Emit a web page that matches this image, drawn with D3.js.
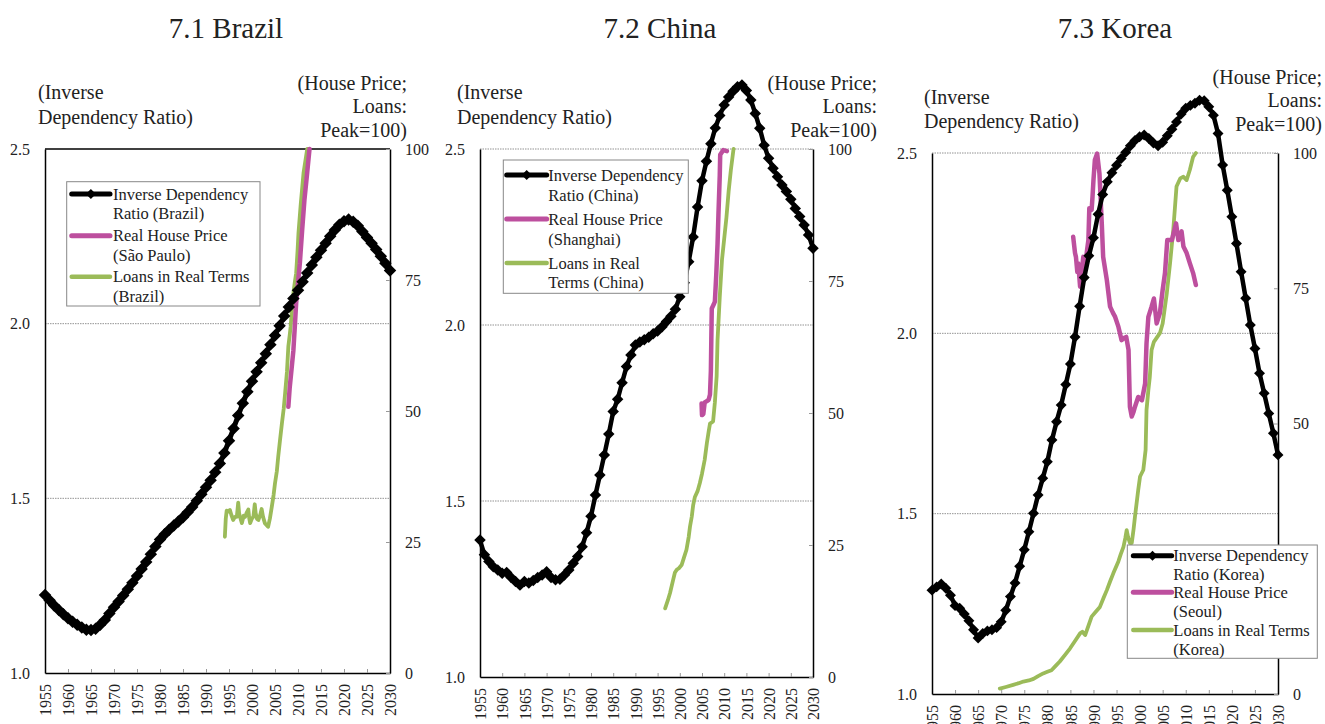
<!DOCTYPE html>
<html>
<head>
<meta charset="utf-8">
<script src="https://cdn.jsdelivr.net/npm/d3@7"></script>
<style>
  html, body { margin: 0; padding: 0; background: #fff; }
  svg { display: block; font-family: "Liberation Serif", "Times New Roman", serif; }
</style>
</head>
<body>
<svg id="chart" width="1325" height="724"></svg>
<script>
// ---- Years and tick labels ----
const years = d3.range(1955, 2031);
const yearTicks = d3.range(1955, 2031, 5);
const leftTicks = [1.0, 1.5, 2.0, 2.5];
const rightTicks = [0, 25, 50, 75, 100];

// ---- Inverse dependency ratio (working-age / dependants), annual 1955-2030 ----
const brazilIDR = [1.223,1.208,1.193,1.180,1.168,1.157,1.147,1.138,1.130,1.124,
  1.123,1.127,1.138,1.152,1.170,1.188,1.205,1.222,1.240,1.258,
  1.278,1.298,1.318,1.340,1.362,1.382,1.397,1.410,1.422,1.434,
  1.446,1.460,1.475,1.493,1.512,1.532,1.552,1.575,1.600,1.630,
  1.665,1.700,1.737,1.772,1.805,1.835,1.862,1.888,1.914,1.940,
  1.966,1.994,2.022,2.048,2.072,2.096,2.120,2.145,2.168,2.190,
  2.210,2.230,2.250,2.268,2.283,2.293,2.298,2.292,2.280,2.264,
  2.247,2.230,2.212,2.193,2.173,2.152];
const chinaIDR = [1.389,1.347,1.328,1.313,1.304,1.295,1.297,1.283,1.271,1.261,
  1.271,1.267,1.274,1.283,1.290,1.299,1.283,1.276,1.278,1.290,
  1.304,1.323,1.342,1.370,1.410,1.457,1.517,1.574,1.631,1.690,
  1.754,1.789,1.836,1.882,1.915,1.943,1.952,1.958,1.965,1.975,
  1.983,1.995,2.010,2.025,2.045,2.080,2.120,2.180,2.250,2.335,
  2.410,2.465,2.515,2.560,2.595,2.625,2.648,2.664,2.677,2.682,
  2.666,2.639,2.601,2.559,2.511,2.474,2.445,2.421,2.398,2.379,
  2.357,2.331,2.308,2.284,2.256,2.218];
const koreaIDR = [1.288,1.297,1.305,1.293,1.274,1.245,1.238,1.222,1.203,1.178,
  1.155,1.168,1.175,1.178,1.184,1.200,1.232,1.270,1.308,1.354,
  1.400,1.450,1.501,1.552,1.598,1.644,1.704,1.755,1.801,1.858,
  1.915,1.990,2.075,2.155,2.215,2.265,2.330,2.385,2.420,2.445,
  2.466,2.485,2.502,2.520,2.535,2.545,2.550,2.540,2.528,2.520,
  2.530,2.548,2.566,2.586,2.608,2.624,2.632,2.638,2.646,2.645,
  2.628,2.605,2.554,2.467,2.397,2.323,2.249,2.171,2.097,2.023,
  1.958,1.889,1.834,1.778,1.723,1.663];

// ---- Real house prices (peak = 100), [year, index] ----
const saoPauloPrice = [[2007.9,50.8],[2008.2,54.5],[2008.6,58.0],[2009.0,61.6],[2009.3,66.0],
  [2009.6,70.6],[2010.0,74.5],[2010.4,78.2],[2010.9,84.5],[2011.4,90.3],[2012.0,95.5],[2012.5,100]];
const shanghaiPrice = [[2004.9,51.8],[2005.0,49.6],[2005.3,49.8],[2005.6,52.0],[2006.0,52.2],
  [2006.5,52.5],[2006.8,53.5],[2007.0,58.0],[2007.1,64.0],[2007.2,69.8],[2007.6,70.5],
  [2007.9,71.1],[2008.2,76.0],[2008.5,82.0],[2008.7,87.5],[2009.0,95.0],[2009.1,98.9],
  [2009.8,99.8],[2010.6,99.6]];
const seoulPrice = [[1985.6,84.5],[1986.0,81.5],[1986.2,80.8],[1986.5,78.0],[1986.7,79.6],
  [1987.1,75.3],[1987.5,78.5],[1987.8,80.8],[1988.2,79.0],[1988.6,82.0],[1988.9,83.9],
  [1989.1,89.8],[1989.6,89.5],[1989.8,92.0],[1990.0,95.0],[1990.3,98.7],[1990.8,99.9],
  [1991.3,96.2],[1991.8,87.0],[1992.1,80.8],[1992.9,76.5],[1993.6,71.6],[1994.2,70.5],
  [1994.7,69.7],[1995.4,67.9],[1996.1,65.4],[1996.6,65.8],[1997.1,66.0],[1997.6,63.6],
  [1997.9,53.1],[1998.3,51.3],[1998.7,52.2],[1999.0,53.1],[1999.7,54.9],[2000.5,54.3],
  [2001.2,57.4],[2001.5,64.8],[2001.9,69.7],[2002.6,71.6],[2003.1,73.1],[2003.7,68.5],
  [2004.4,70.4],[2005.0,74.7],[2005.5,77.8],[2006.0,83.9],[2007.0,83.9],[2007.9,87.0],
  [2008.4,83.9],[2009.1,85.5],[2009.5,82.7],[2010.2,81.5],[2010.9,79.6],[2011.6,77.8],
  [2012.2,75.6]];

// ---- Loans in real terms (peak = 100), [year, index] ----
const brazilLoans = [[1994.1,26.0],[1994.3,29.5],[1994.5,31.0],[1994.8,30.8],[1995.2,31.1],
  [1995.5,30.2],[1995.9,29.2],[1996.3,29.8],[1996.7,29.8],[1997.0,32.5],[1997.2,30.5],
  [1997.5,29.5],[1997.8,28.6],[1998.2,30.0],[1998.5,29.8],[1998.8,30.5],[1999.2,31.2],
  [1999.4,29.5],[1999.6,28.6],[2000.0,29.5],[2000.3,29.8],[2000.6,32.2],[2000.8,30.5],
  [2001.1,29.4],[2001.4,29.2],[2001.8,30.2],[2002.1,31.3],[2002.4,29.8],[2002.8,28.6],
  [2003.2,28.2],[2003.5,27.9],[2003.9,29.5],[2004.3,31.7],[2004.7,34.0],[2005.0,36.2],
  [2005.4,38.5],[2005.7,41.3],[2006.1,44.5],[2006.5,47.6],[2006.9,50.5],[2007.2,53.4],
  [2007.6,57.5],[2007.9,62.3],[2008.2,64.5],[2008.4,66.1],[2008.7,69.5],[2009.0,72.5],
  [2009.3,74.5],[2009.6,76.3],[2009.9,80.5],[2010.1,83.9],[2010.6,89.5],[2011.2,95.4],
  [2012.0,100]];
const chinaLoans = [[1996.7,13.0],[1997.3,14.5],[1997.8,15.9],[1998.5,18.4],[1998.9,19.8],
  [1999.3,20.3],[1999.8,20.6],[2000.4,21.2],[2000.9,22.5],[2001.5,24.1],[2002.0,26.5],
  [2002.3,28.5],[2002.7,30.4],[2003.0,32.5],[2003.4,34.1],[2004.0,35.2],[2004.5,36.7],
  [2005.0,38.5],[2005.6,41.1],[2006.1,44.3],[2006.5,46.5],[2006.8,48.0],[2007.5,48.4],
  [2007.9,52.0],[2008.3,57.0],[2008.5,63.8],[2009.0,72.0],[2009.5,79.0],[2010.0,83.0],
  [2010.5,87.0],[2011.0,92.0],[2011.5,96.0],[2012.1,100.0]];
const koreaLoans = [[1969.7,1.0],[1971.0,1.3],[1972.6,1.7],[1973.8,2.0],[1974.8,2.3],
  [1976.0,2.5],[1977.0,2.8],[1978.0,3.3],[1979.1,3.8],[1980.0,4.1],[1980.9,4.4],
  [1981.8,5.2],[1982.7,6.0],[1983.8,7.2],[1984.9,8.4],[1986.0,9.8],[1987.1,11.2],
  [1987.6,11.5],[1988.2,10.9],[1988.9,12.6],[1989.6,14.3],[1990.5,15.2],[1991.4,16.1],
  [1992.2,17.8],[1992.9,19.2],[1993.6,20.8],[1994.3,22.3],[1995.4,24.5],[1995.9,25.8],
  [1996.5,27.2],[1996.9,28.8],[1997.2,30.3],[1997.5,29.0],[1997.9,27.9],[1998.3,27.9],
  [1998.7,30.5],[1999.0,32.8],[1999.7,37.7],[2000.1,40.2],[2000.8,41.4],[2001.3,45.1],
  [2001.5,52.5],[2001.9,56.2],[2002.2,58.5],[2002.6,63.6],[2003.1,65.1],[2004.4,66.7],
  [2005.0,68.5],[2005.9,74.1],[2006.6,79.6],[2007.3,85.8],[2008.0,93.8],[2008.8,95.3],
  [2009.5,95.6],[2010.2,95.0],[2010.9,96.9],[2011.6,99.3],[2012.2,100]];

// ---- Texts ----
const titles = ["7.1 Brazil", "7.2 China", "7.3 Korea"];
const leftAxisTitle = ["(Inverse", "Dependency Ratio)"];
const rightAxisTitle = ["(House Price;", "Loans:", "Peak=100)"];
const legendTexts = [
  [["Inverse Dependency", "Ratio (Brazil)"], ["Real House Price", "(São Paulo)"], ["Loans  in Real Terms", "(Brazil)"]],
  [["Inverse Dependency", "Ratio (China)"], ["Real House Price", "(Shanghai)"], ["Loans in Real", "Terms (China)"]],
  [["Inverse Dependency", "Ratio (Korea)"], ["Real House Price", "(Seoul)"], ["Loans in Real Terms", "(Korea)"]]
];

// ---- Styling ----
const COL_IDR = "#000000";
const COL_PRICE = "#BD4F9E";
const COL_LOAN = "#9BBB59";
const TEXT = "#222";

// ---- Panel layout ----
const panels = [
  { title: titles[0], idr: brazilIDR, price: saoPauloPrice, loans: brazilLoans, legend: legendTexts[0],
    L: 45, R: 390, T: 149, B: 673, titleX: 226, solidTop: true, mk: 78, lw: 5,
    ltX: 38, ltY: [99, 124], rtX: 407, rtY: [90, 113, 137],
    lg: { x: 66.7, y: 181.7, w: 193.3, h: 124.3, sx1: 71.7, sx2: 110, tx: 113, rows: [194, 213.3, 235.7, 255, 276.7, 296] } },
  { title: titles[1], idr: chinaIDR, price: shanghaiPrice, loans: chinaLoans, legend: legendTexts[1],
    L: 480, R: 813, T: 149, B: 677, titleX: 660, solidTop: false, mk: 66, lw: 4.5,
    ltX: 457, ltY: [99, 124], rtX: 877, rtY: [90, 113, 137],
    lg: { x: 503.3, y: 160, w: 185, h: 133.3, sx1: 506.7, sx2: 546.7, tx: 548.3, rows: [175, 195, 219, 239, 263, 282] } },
  { title: titles[2], idr: koreaIDR, price: seoulPrice, loans: koreaLoans, legend: legendTexts[2],
    L: 932, R: 1278, T: 153, B: 694, titleX: 1115, solidTop: false, mk: 60, lw: 4.5,
    ltX: 924, ltY: [104, 128], rtX: 1322, rtY: [84, 107, 131],
    lg: { x: 1127.3, y: 545, w: 190, h: 113.3, sx1: 1133.3, sx2: 1171.7, tx: 1173.3, rows: [555.7, 574.3, 592.3, 611.7, 630, 649.3] } }
];

const svg = d3.select("#chart");

panels.forEach(p => {
  const g = svg.append("g");
  const x = d3.scaleLinear().domain([1955, 2030]).range([p.L, p.R]);
  const yL = d3.scaleLinear().domain([1, 2.5]).range([p.B, p.T]);
  const yR = d3.scaleLinear().domain([0, 100]).range([p.B, p.T]);
  const diamond = d3.symbol().type(d3.symbolSquare).size(p.mk);
  const lg = p.lg;

  // title
  g.append("text").attr("x", p.titleX).attr("y", 38).attr("text-anchor", "middle")
    .attr("font-size", 29).attr("fill", TEXT).text(p.title);

  // axis titles
  const lt = g.append("text").attr("font-size", 20).attr("fill", TEXT);
  leftAxisTitle.forEach((s, i) => lt.append("tspan").attr("x", p.ltX).attr("y", p.ltY[i]).text(s));
  const rt = g.append("text").attr("font-size", 20).attr("fill", TEXT).attr("text-anchor", "end");
  rightAxisTitle.forEach((s, i) => rt.append("tspan").attr("x", p.rtX).attr("y", p.rtY[i]).text(s));

  // gridlines
  const grid = p.solidTop ? [1.5, 2.0] : [1.5, 2.0, 2.5];
  g.append("g").selectAll("line").data(grid).join("line")
    .attr("x1", p.L).attr("x2", p.R).attr("y1", d => yL(d)).attr("y2", d => yL(d))
    .attr("stroke", "#777").attr("stroke-width", 0.8).attr("stroke-dasharray", "1.5,1");
  if (p.solidTop) {
    g.append("line").attr("x1", p.L).attr("x2", p.R).attr("y1", p.T).attr("y2", p.T)
      .attr("stroke", "#000").attr("stroke-width", 1.3);
  }

  // bottom axis (years, rotated)
  const xa = g.append("g").attr("transform", `translate(0,${p.B})`)
    .call(d3.axisBottom(x).tickValues(yearTicks).tickFormat(d3.format("d")).tickSizeInner(-4).tickSizeOuter(0));
  xa.select(".domain").attr("stroke", "#000").attr("stroke-width", 1.5);
  xa.selectAll(".tick line").attr("stroke", "#999");
  xa.selectAll(".tick text").attr("transform", "rotate(-90)").attr("x", -11).attr("y", 0)
    .attr("dy", "0.35em").attr("text-anchor", "end").attr("font-size", 16)
    .attr("fill", TEXT).attr("font-family", "Liberation Serif");

  // left axis
  const la = g.append("g").attr("transform", `translate(${p.L},0)`)
    .call(d3.axisLeft(yL).tickValues(leftTicks).tickFormat(d3.format(".1f")).tickSize(0).tickPadding(15));
  la.select(".domain").attr("stroke", "#000").attr("stroke-width", 1.5);
  la.selectAll(".tick text").attr("font-size", 16).attr("fill", TEXT).attr("font-family", "Liberation Serif");

  // right axis; a label hidden under the legend box is not drawn
  const ra = g.append("g").attr("transform", `translate(${p.R},0)`)
    .call(d3.axisRight(yR).tickValues(rightTicks).tickSizeInner(-4).tickSizeOuter(0).tickPadding(15));
  ra.select(".domain").attr("stroke", "#000").attr("stroke-width", 1.5);
  ra.selectAll(".tick line").attr("stroke", "#999");
  ra.selectAll(".tick text").attr("font-size", 16).attr("fill", TEXT).attr("font-family", "Liberation Serif")
    .filter(d => p.R + 15 >= lg.x && p.R + 15 <= lg.x + lg.w && yR(d) >= lg.y && yR(d) <= lg.y + lg.h)
    .remove();

  // series
  const lineR = d3.line().x(d => x(d[0])).y(d => yR(d[1]));
  const lineL = d3.line().x((d, i) => x(years[i])).y(d => yL(d));

  g.append("path").datum(p.loans).attr("d", lineR).attr("fill", "none")
    .attr("stroke", COL_LOAN).attr("stroke-width", 3.8).attr("stroke-linejoin", "round").attr("stroke-linecap", "round");
  g.append("path").datum(p.price).attr("d", lineR).attr("fill", "none")
    .attr("stroke", COL_PRICE).attr("stroke-width", 4.5).attr("stroke-linejoin", "round").attr("stroke-linecap", "round");
  g.append("path").datum(p.idr).attr("d", lineL).attr("fill", "none")
    .attr("stroke", COL_IDR).attr("stroke-width", p.lw).attr("stroke-linejoin", "round");
  g.append("g").selectAll("path").data(p.idr).join("path")
    .attr("d", diamond)
    .attr("transform", (d, i) => `translate(${x(years[i])},${yL(d)}) rotate(45)`)
    .attr("fill", COL_IDR);

  // legend
  const leg = g.append("g");
  leg.append("rect").attr("x", lg.x).attr("y", lg.y).attr("width", lg.w).attr("height", lg.h)
    .attr("fill", "#fff").attr("stroke", "#888").attr("stroke-width", 1);
  const items = [
    { col: COL_IDR, w: 5, marker: true },
    { col: COL_PRICE, w: 5, marker: false },
    { col: COL_LOAN, w: 4.5, marker: false }
  ];
  const legDiamond = d3.symbol().type(d3.symbolSquare).size(50);
  items.forEach((it, k) => {
    const ry = lg.rows[k * 2];
    leg.append("line").attr("x1", lg.sx1).attr("x2", lg.sx2).attr("y1", ry).attr("y2", ry)
      .attr("stroke", it.col).attr("stroke-width", it.w).attr("stroke-linecap", "round");
    if (it.marker) {
      leg.append("path").attr("d", legDiamond)
        .attr("transform", `translate(${(lg.sx1 + lg.sx2) / 2},${ry}) rotate(45)`).attr("fill", it.col);
    }
    p.legend[k].forEach((s, j) => {
      leg.append("text").attr("x", lg.tx).attr("y", lg.rows[k * 2 + j]).attr("dy", "0.35em")
        .attr("font-size", 16.5).attr("fill", TEXT).text(s);
    });
  });
});
</script>
</body>
</html>
